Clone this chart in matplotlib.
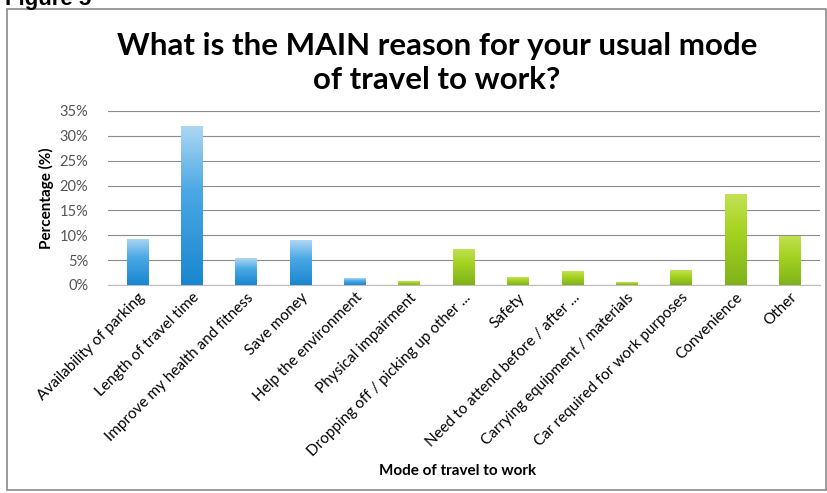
import numpy as np
import matplotlib
matplotlib.use("Agg")
import matplotlib.pyplot as plt
from matplotlib.patches import Rectangle
from matplotlib.colors import LinearSegmentedColormap

plt.rcParams['font.family'] = ['Lato', 'DejaVu Sans']

categories = ["Availability of parking", "Length of travel time", "Improve my health and fitness",
              "Save money", "Help the environment", "Physical impairment",
              "Dropping off / picking up other ...", "Safety", "Need to attend before / after ...",
              "Carrying equipment / materials", "Car required for work purposes",
              "Convenience", "Other"]
values = [9.3, 32.0, 5.4, 9.0, 1.4, 0.7, 7.3, 1.6, 2.8, 0.5, 3.0, 18.2, 9.9]
groups = ["blue"] * 5 + ["green"] * 8
yticks = [0, 5, 10, 15, 20, 25, 30, 35]

cmaps = {
    "blue": LinearSegmentedColormap.from_list("b", ["#1a86cf", "#4aa8e4", "#d8ecfa"]),
    "green": LinearSegmentedColormap.from_list("g", ["#7fb31a", "#a5d321", "#cfe86a"]),
}

fig = plt.figure(figsize=(8.28, 4.93), dpi=100)
ax = fig.add_axes([0.130, 0.422, 0.860, 0.353])

x = np.arange(len(categories))
bars = ax.bar(x, values, width=0.40, color="none", edgecolor="none", zorder=3)

# vertical gradient (dark at bottom, light at top)
grad = np.linspace(0, 1, 256).reshape(-1, 1)
for b, g in zip(bars, groups):
    x0, w, h = b.get_x(), b.get_width(), b.get_height()
    img = cmaps[g](grad * 0.85 * np.ones((1, 32)))
    im = ax.imshow(img, extent=[x0, x0 + w, 0, h], origin="lower", aspect="auto",
                   zorder=3, interpolation="bilinear")
    im.set_clip_path(b)

ax.set_xlim(-0.55, len(categories) - 0.45)
ax.set_ylim(0, 35)
ax.set_yticks(yticks)
ax.set_yticklabels([f"{t}%" for t in yticks], fontsize=10.5, color="#555555")
ax.yaxis.grid(True, color="#8c8c8c", linewidth=0.8, zorder=0)
ax.set_axisbelow(True)
for s in ["top", "right", "left"]:
    ax.spines[s].set_visible(False)
ax.spines["bottom"].set_color("#bdbdbd")
ax.tick_params(axis="y", length=0, pad=14)
ax.tick_params(axis="x", length=0, pad=4)
ax.set_xticks(x)
ax.set_xticklabels(categories, rotation=45, ha="right", rotation_mode="anchor", fontsize=11)

ax.set_ylabel("Percentage (%)", fontsize=11, fontweight="bold", labelpad=4)
fig.text(0.553, 0.037, "Mode of travel to work", ha="center", fontsize=11, fontweight="bold")
fig.text(0.528, 0.872, "What is the MAIN reason for your usual mode\nof travel to work?",
         ha="center", va="center", fontsize=22.5, fontweight="bold", linespacing=1.25)

fig.text(0.006, 1 - 5 / 493, "Figure 5", ha="left", va="baseline", fontsize=16, fontweight="bold",
         family=["Liberation Sans", "DejaVu Sans"])
fig.patches.append(Rectangle((0.009, 0.006), 0.988, 0.975, transform=fig.transFigure,
                             fill=False, edgecolor="#8a8a8a", linewidth=1.2))

fig.savefig("out.png", dpi=100)
